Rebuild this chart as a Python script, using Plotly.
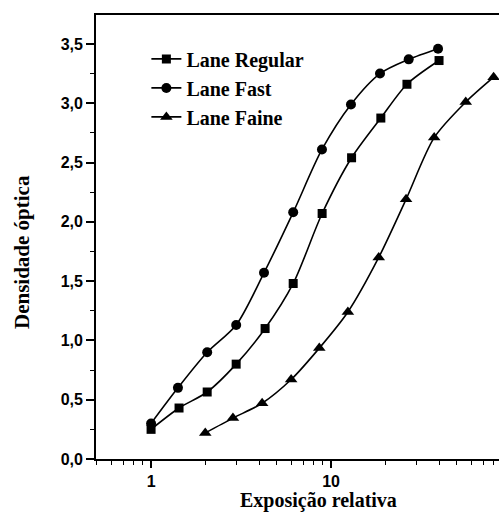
import plotly.graph_objects as go

# Data
regular_x = [1.0, 1.43, 2.05, 2.97, 4.3, 6.16, 8.92, 13.0, 18.9, 26.4, 39.8]
regular_y = [0.25, 0.43, 0.565, 0.80, 1.10, 1.48, 2.07, 2.54, 2.875, 3.16, 3.36]

fast_x = [1.0, 1.41, 2.05, 2.97, 4.24, 6.16, 8.9, 12.9, 18.7, 27.0, 39.3]
fast_y = [0.30, 0.60, 0.90, 1.13, 1.57, 2.08, 2.61, 2.99, 3.25, 3.37, 3.46]

faine_x = [2.0, 2.85, 4.14, 6.0, 8.6, 12.4, 18.4, 26.1, 37.4, 56.0, 80.0]
faine_y = [0.22, 0.345, 0.47, 0.67, 0.935, 1.24, 1.70, 2.19, 2.71, 3.01, 3.22]

series_names = ["Lane Regular", "Lane Fast", "Lane Faine"]
x_tickvals = [1, 10]
x_ticktext = ["1", "10"]
y_tickvals = [0, 0.5, 1.0, 1.5, 2.0, 2.5, 3.0, 3.5]
y_ticktext = ["0,0", "0,5", "1,0", "1,5", "2,0", "2,5", "3,0", "3,5"]

SERIF = "Liberation Serif"
SANS = "Liberation Sans"

fig = go.Figure()
specs = [
    (regular_x, regular_y, "square", 9),
    (fast_x, fast_y, "circle", 10),
    (faine_x, faine_y, "triangle-up", 11),
]
for (xs, ys, sym, sz), name in zip(specs, series_names):
    fig.add_trace(go.Scatter(
        x=xs, y=ys, name=name, mode="lines+markers",
        line=dict(color="black", width=1.6, shape="spline", smoothing=0.8),
        marker=dict(symbol=sym, size=sz, color="black"),
        cliponaxis=False,
    ))

fig.update_layout(
    width=499, height=514,
    margin=dict(l=96, r=0, t=15, b=55),
    paper_bgcolor="white", plot_bgcolor="white",
    showlegend=True,
    legend=dict(
        x=0.125, y=0.945, xanchor="left", yanchor="top",
        font=dict(family=SERIF, size=20, color="black", weight="bold"),
        bgcolor="rgba(0,0,0,0)", tracegroupgap=0,
    ),
    xaxis=dict(
        type="log", range=[-0.306, 1.933],
        tickvals=x_tickvals, ticktext=x_ticktext,
        ticks="outside", ticklen=7, tickwidth=1.5, tickcolor="black",
        showline=True, linecolor="black", linewidth=1.8, mirror=True,
        showgrid=False, zeroline=False,
        tickfont=dict(family=SANS, size=16, color="black", weight="bold"),
        minor=dict(dtick="D1", ticks="outside", ticklen=4, tickwidth=1.2,
                   tickcolor="black", showgrid=False),
    ),
    yaxis=dict(
        range=[0, 3.744],
        tickvals=y_tickvals, ticktext=y_ticktext,
        ticks="outside", ticklen=8, tickwidth=1.5, tickcolor="black",
        showline=True, linecolor="black", linewidth=1.8,
        showgrid=False, zeroline=False,
        tickfont=dict(family=SANS, size=16, color="black", weight="bold"),
        minor=dict(dtick=0.25, ticks="outside", ticklen=4, tickwidth=1.2,
                   tickcolor="black", showgrid=False),
    ),
    annotations=[
        dict(text="Exposição relativa", xref="paper", yref="paper",
             x=(318 - 96) / 403, y=(459 - 500) / 444, xanchor="center", yanchor="middle",
             showarrow=False,
             font=dict(family=SERIF, size=20, color="black", weight="bold")),
        dict(text="Densidade óptica", xref="paper", yref="paper",
             x=(22 - 96) / 403, y=(459 - 252) / 444, xanchor="center", yanchor="middle",
             textangle=-90, showarrow=False,
             font=dict(family=SERIF, size=21, color="black", weight="bold")),
    ],
)

fig.write_html(
    "out.html",
    config={"displayModeBar": False},
    post_script="document.body.style.margin='0';document.body.style.overflow='hidden';",
)
